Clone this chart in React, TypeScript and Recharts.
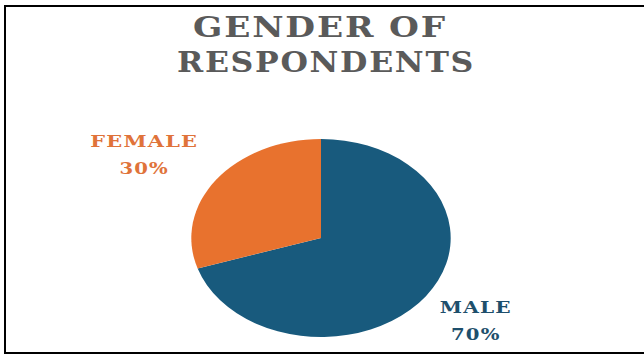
import { PieChart, Pie, Cell, Sector } from "recharts";

const CATEGORIES = ["MALE", "FEMALE"];
const SHARES = [70, 30];
const TITLE_LINES = ["GENDER OF", "RESPONDENTS"];

const SLICE_COLORS = ["#185A7D", "#E8722E"];
const LABEL_COLORS = ["#1E4F6C", "#E0733A"];
const FONT = "DejaVu Serif, Liberation Serif, serif";
const STRETCH = 1.31;
const RAD = Math.PI / 180;

const data = CATEGORIES.map((name, i) => ({ name, value: SHARES[i] }));

function StretchedSlice(props: any) {
  const { cx, cy, innerRadius, outerRadius, startAngle, endAngle, fill } = props;
  return (
    <g transform={`translate(${cx} ${cy}) scale(${STRETCH} 1) translate(${-cx} ${-cy})`}>
      <Sector
        cx={cx}
        cy={cy}
        innerRadius={innerRadius}
        outerRadius={outerRadius}
        startAngle={startAngle}
        endAngle={endAngle}
        fill={fill}
        stroke="none"
      />
    </g>
  );
}

function SliceLabel(props: any) {
  const { cx, cy, midAngle, outerRadius, index, name, value } = props;
  const rx = outerRadius * 2.07;
  const ry = outerRadius * 1.42;
  const x = cx - 11 + Math.cos(-midAngle * RAD) * rx;
  const y = cy + Math.sin(-midAngle * RAD) * ry;
  const pct = `${value}%`;
  return (
    <text
      fontFamily={FONT}
      fontWeight="bold"
      fontSize={17}
      letterSpacing={1}
      fill={LABEL_COLORS[index]}
      textAnchor="middle"
    >
      <tspan x={x} y={y - 8} textLength={name.length * 18} lengthAdjust="spacingAndGlyphs">
        {name}
      </tspan>
      <tspan x={x} y={y + 19} textLength={pct.length * 16.5} lengthAdjust="spacingAndGlyphs">
        {pct}
      </tspan>
    </text>
  );
}

export default function App() {
  const titleStyle = {
    fontFamily: FONT,
    fontWeight: "bold" as const,
    fontSize: 28,
    letterSpacing: 1.5,
    fill: "#5A5A5A",
  };
  return (
    <div style={{ position: "absolute", left: 0, top: 0, width: 644, height: 356, background: "#fff", overflow: "hidden" }}>
      <div
        style={{
          position: "absolute",
          left: 4,
          top: 5,
          width: 700,
          height: 345,
          borderTop: "2px solid #000",
          borderLeft: "2px solid #000",
          borderBottom: "2px solid #000",
        }}
      />
      <svg width={644} height={356} style={{ position: "absolute", left: 0, top: 0 }}>
        <text x={320} y={37} textAnchor="middle" style={titleStyle} textLength={254} lengthAdjust="spacingAndGlyphs">
          {TITLE_LINES[0]}
        </text>
        <text x={326} y={72} textAnchor="middle" style={titleStyle} textLength={298} lengthAdjust="spacingAndGlyphs">
          {TITLE_LINES[1]}
        </text>
      </svg>
      <div style={{ position: "absolute", left: 0, top: 0 }}>
        <PieChart width={644} height={356} margin={{ top: 0, right: 0, bottom: 0, left: 0 }}>
          <Pie
            data={data}
            dataKey="value"
            nameKey="name"
            cx={321}
            cy={238}
            outerRadius={99}
            startAngle={90}
            endAngle={-270}
            stroke="none"
            shape={StretchedSlice}
            label={SliceLabel}
            labelLine={false}
            isAnimationActive={false}
          >
            {data.map((d, i) => (
              <Cell key={d.name} fill={SLICE_COLORS[i]} />
            ))}
          </Pie>
        </PieChart>
      </div>
    </div>
  );
}
